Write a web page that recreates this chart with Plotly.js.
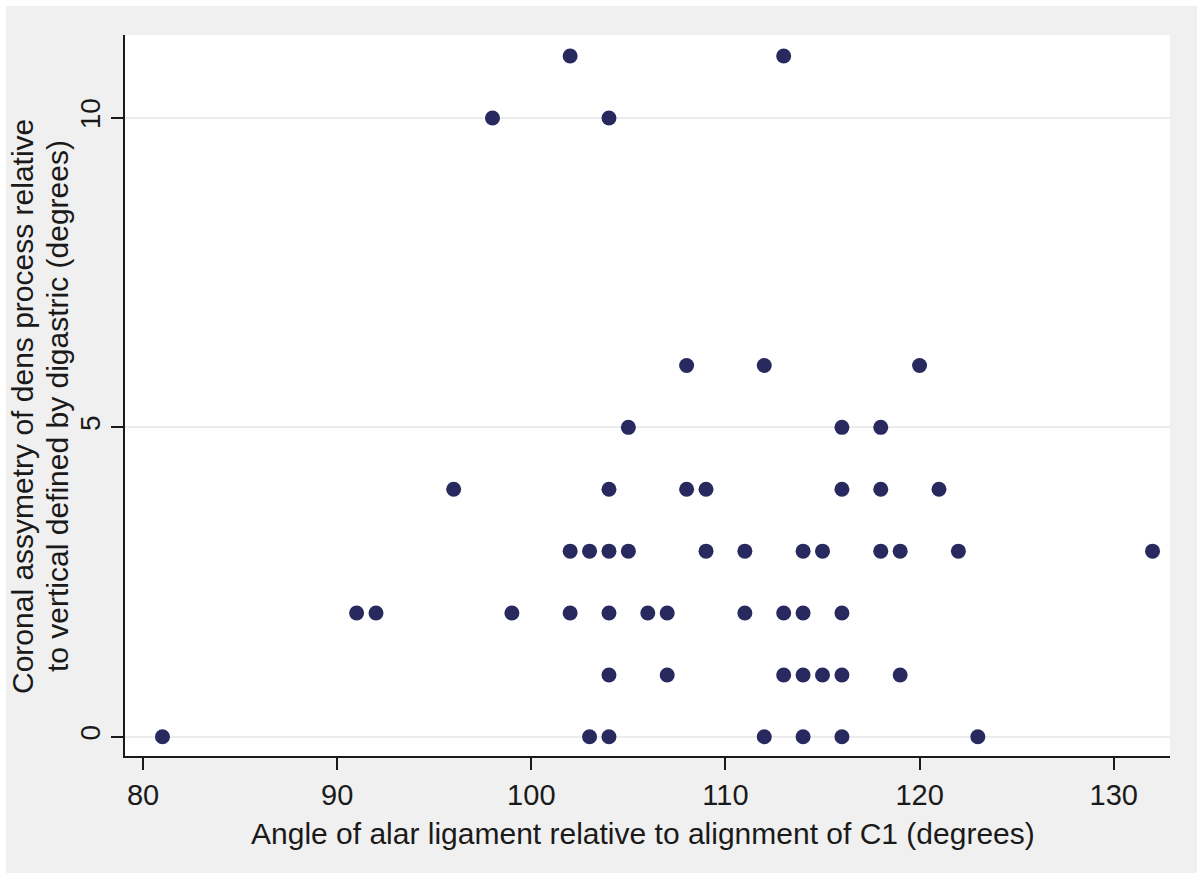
<!DOCTYPE html>
<html>
<head>
<meta charset="utf-8">
<script src="https://cdn.plot.ly/plotly-3.0.1.min.js"></script>
<style>
html,body{margin:0;padding:0;background:#ffffff;}
#chart{position:absolute;left:6px;top:6px;width:1191px;height:867px;}
</style>
</head>
<body>
<div id="chart"></div>
<script>
// Angle of alar ligament (degrees)
const alarAngle = [
  102, 113,
  98, 104,
  108, 112, 120,
  105, 116, 118,
  96, 104, 108, 109, 116, 118, 121,
  102, 103, 104, 105, 109, 111, 114, 115, 118, 119, 122, 132,
  91, 92, 99, 102, 104, 106, 107, 111, 113, 114, 116,
  104, 107, 113, 114, 115, 116, 119,
  81, 103, 104, 112, 114, 116, 123
];
// Coronal asymmetry of dens (degrees)
const densAsym = [
  11, 11,
  10, 10,
  6, 6, 6,
  5, 5, 5,
  4, 4, 4, 4, 4, 4, 4,
  3, 3, 3, 3, 3, 3, 3, 3, 3, 3, 3, 3,
  2, 2, 2, 2, 2, 2, 2, 2, 2, 2, 2,
  1, 1, 1, 1, 1, 1, 1,
  0, 0, 0, 0, 0, 0, 0
];
const xTicks = [80, 90, 100, 110, 120, 130];
const yTicks = [0, 5, 10];
const xTitle = 'Angle of alar ligament relative to alignment of C1 (degrees)';
const yTitleLines = ['Coronal assymetry of dens process relative', 'to vertical defined by digastric (degrees)'];

const font = "Liberation Sans, Arial, sans-serif";
const ink = '#1a1a1a';

const trace = {
  type: 'scatter',
  mode: 'markers',
  x: alarAngle,
  y: densAsym,
  marker: {color: '#28295f', size: 15, line: {width: 0}},
  hoverinfo: 'x+y'
};

const layout = {
  width: 1191,
  height: 867,
  paper_bgcolor: '#f0f0f0',
  plot_bgcolor: '#ffffff',
  showlegend: false,
  margin: {l: 119, r: 27, t: 29, b: 117},
  font: {family: font, color: ink},
  xaxis: {
    range: [79.07, 132.9],
    tickvals: xTicks,
    ticktext: xTicks.map(String),
    showgrid: false,
    zeroline: false,
    showline: true,
    linecolor: ink,
    linewidth: 2,
    ticks: 'outside',
    ticklen: 12,
    tickwidth: 2,
    tickcolor: ink,
    tickfont: {size: 29, family: font, color: ink},
    automargin: false
  },
  yaxis: {
    range: [-0.31, 11.34],
    tickvals: yTicks,
    ticktext: yTicks.map(String),
    tickangle: -90,
    showgrid: true,
    gridcolor: '#ececec',
    gridwidth: 2,
    zeroline: false,
    showline: true,
    linecolor: ink,
    linewidth: 2,
    ticks: 'outside',
    ticklen: 12,
    tickwidth: 2,
    tickcolor: ink,
    tickfont: {size: 28, family: font, color: ink},
    automargin: false
  },
  annotations: [
    {text: xTitle, xref: 'paper', yref: 'paper', x: 0.496, y: -0.107, xanchor: 'center', yanchor: 'middle',
     showarrow: false, font: {size: 30, family: font, color: ink}},
    {text: yTitleLines[0], xref: 'paper', yref: 'paper', x: -0.0986, y: 0.4854, xanchor: 'center', yanchor: 'middle',
     textangle: -90, showarrow: false, font: {size: 30, family: font, color: ink}},
    {text: yTitleLines[1], xref: 'paper', yref: 'paper', x: -0.0651, y: 0.4854, xanchor: 'center', yanchor: 'middle',
     textangle: -90, showarrow: false, font: {size: 30, family: font, color: ink}}
  ]
};

Plotly.newPlot('chart', [trace], layout, {displayModeBar: false, staticPlot: true});
</script>
</body>
</html>
